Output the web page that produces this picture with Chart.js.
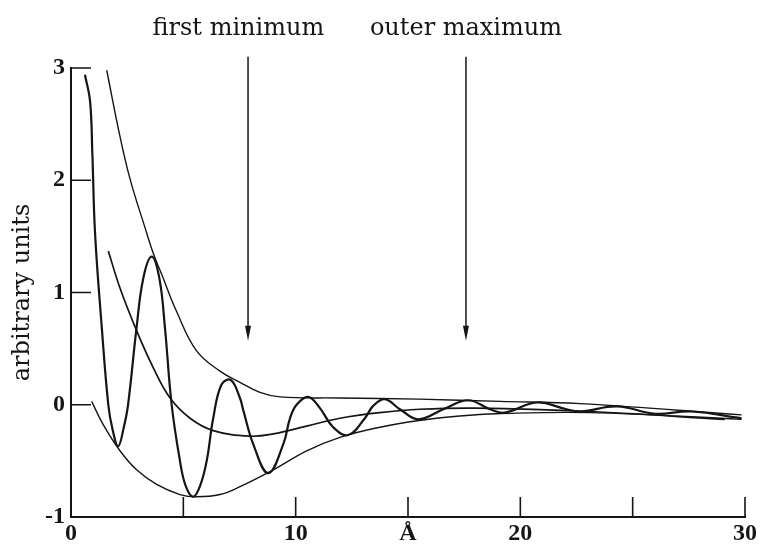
<!DOCTYPE html>
<html>
<head>
<meta charset="utf-8">
<script src="https://cdn.jsdelivr.net/npm/chart.js@4.4.0/dist/chart.umd.min.js"></script>
<style>
  html, body { margin: 0; padding: 0; background: #fff; }
</style>
</head>
<body>
<canvas id="chart" width="761" height="549"></canvas>
<script>
// oscillating curve
const waveX = [0.62, 0.85, 0.95, 1.07, 1.37, 1.66, 1.85, 2.1, 2.35, 2.54, 2.92, 3.22, 3.59, 3.93, 4.18, 4.48, 4.85, 5.1, 5.44,
  5.75, 6.04, 6.33, 6.7, 7.12, 7.52, 7.67, 8.11, 8.78, 9.45, 9.75, 10.04, 10.56, 11.08, 11.67, 12.34, 13.08, 13.45, 13.97, 14.64,
  15.46, 16.57, 17.68, 18.65, 19.31, 20.72, 22.06, 22.7, 24.3, 26.0, 27.6, 29.85];
const waveY = [2.94, 2.7, 2.24, 1.53, 0.69, 0.0, -0.22, -0.37, -0.2, 0.0, 0.69, 1.13, 1.32, 1.13, 0.69, 0.0, -0.5, -0.72, -0.82,
  -0.72, -0.5, -0.12, 0.18, 0.22, 0.06, -0.05, -0.35, -0.61, -0.35, -0.12, 0.0, 0.07, -0.03, -0.2, -0.27, -0.12, -0.01, 0.05, -0.04,
  -0.13, -0.04, 0.04, -0.04, -0.07, 0.02, -0.04, -0.06, -0.015, -0.08, -0.06, -0.12];

// upper envelope
const upperX = [1.59, 2.18, 2.63, 3.29, 3.66, 4.04, 4.7, 5.59, 6.63, 7.52, 8.41, 9.3, 11.97, 15.5, 19.1, 22.65, 29.85];
const upperY = [2.98, 2.39, 2.01, 1.58, 1.35, 1.16, 0.83, 0.48, 0.3, 0.2, 0.11, 0.07, 0.06, 0.05, 0.03, 0.01, -0.09];

// middle curve
const middleX = [1.66, 2.18, 2.92, 3.66, 4.41, 5.3, 6.33, 7.97, 9.0, 10.49, 11.97, 13.75, 15.53, 18.05, 23.1, 29.1];
const middleY = [1.37, 1.04, 0.66, 0.33, 0.06, -0.12, -0.23, -0.28, -0.26, -0.19, -0.12, -0.07, -0.04, -0.03, -0.06, -0.13];

// lower envelope
const lowerX = [0.92, 1.44, 2.18, 2.92, 3.81, 4.85, 5.59, 6.63, 7.52, 9.0, 10.49, 11.97, 13.75, 15.5, 17.3, 18.95, 23.1, 29.85];
const lowerY = [0.03, -0.18, -0.41, -0.58, -0.71, -0.8, -0.82, -0.8, -0.73, -0.58, -0.41, -0.29, -0.2, -0.14, -0.1, -0.08, -0.07, -0.13];

const xTicks = [0, 5, 10, 15, 20, 25, 30];
const xTickLabels = ['0', '', '10', 'Å', '20', '', '30'];
const yTicks = [-1, 0, 1, 2, 3];

// arrows at the top
const arrowLabels = ['first minimum', 'outer maximum'];
const arrowX = [7.88, 17.58];
const labelX = [7.45, 17.58];
const labelY = 3.29;
const arrowTop = 3.1;
const arrowTip = 0.57;

const ink = '#151515';
const toPoints = (xs, ys) => xs.map((v, i) => ({ x: v, y: ys[i] }));

const decorations = {
  id: 'decorations',
  afterDraw(chart) {
    const { ctx, scales: { x, y } } = chart;
    ctx.save();
    ctx.strokeStyle = ink;
    ctx.fillStyle = ink;

    // tick marks point inwards
    ctx.lineWidth = 1.6;
    ctx.beginPath();
    xTicks.forEach(v => {
      if (v === 0) return;
      const px = x.getPixelForValue(v);
      ctx.moveTo(px, y.bottom);
      ctx.lineTo(px, y.bottom - 20);
    });
    yTicks.forEach(v => {
      if (v === -1) return;
      const py = y.getPixelForValue(v);
      ctx.moveTo(x.left, py);
      ctx.lineTo(x.left + 20, py);
    });
    ctx.stroke();

    // arrows + captions
    ctx.font = '24px "DejaVu Serif"';
    ctx.textAlign = 'center';
    ctx.textBaseline = 'alphabetic';
    arrowX.forEach((v, i) => {
      const px = x.getPixelForValue(v);
      const top = y.getPixelForValue(arrowTop);
      const tip = y.getPixelForValue(arrowTip);
      ctx.lineWidth = 1.5;
      ctx.beginPath();
      ctx.moveTo(px, top);
      ctx.lineTo(px, tip - 10);
      ctx.stroke();
      ctx.beginPath();
      ctx.moveTo(px - 3, tip - 15);
      ctx.lineTo(px + 3, tip - 15);
      ctx.lineTo(px, tip);
      ctx.closePath();
      ctx.fill();
      ctx.fillText(arrowLabels[i], x.getPixelForValue(labelX[i]), y.getPixelForValue(labelY));
    });
    ctx.restore();
  }
};

const lineStyle = (width) => ({
  borderColor: ink,
  borderWidth: width,
  pointRadius: 0,
  fill: false,
  tension: 0.4
});

const tickFont = { family: '"Liberation Serif"', weight: 'bold', size: 24 };

new Chart(document.getElementById('chart'), {
  type: 'line',
  data: {
    datasets: [
      { label: 'wave', data: toPoints(waveX, waveY), ...lineStyle(2.2) },
      { label: 'upper', data: toPoints(upperX, upperY), ...lineStyle(1.4) },
      { label: 'middle', data: toPoints(middleX, middleY), ...lineStyle(1.7) },
      { label: 'lower', data: toPoints(lowerX, lowerY), ...lineStyle(1.4) }
    ]
  },
  options: {
    responsive: false,
    animation: false,
    layout: { padding: { top: 68, right: 16, bottom: 0, left: 0 } },
    plugins: {
      legend: { display: false },
      tooltip: { enabled: false }
    },
    scales: {
      x: {
        type: 'linear',
        min: 0,
        max: 30,
        afterBuildTicks: (s) => { s.ticks = xTicks.map(v => ({ value: v })); },
        afterFit: (s) => { s.height = 32; },
        ticks: {
          callback: (v) => xTickLabels[xTicks.indexOf(v)],
          font: tickFont,
          color: ink,
          padding: 2,
          maxRotation: 0,
          autoSkip: false
        },
        grid: { drawOnChartArea: false, drawTicks: false },
        border: { display: true, width: 2, color: ink }
      },
      y: {
        min: -1,
        max: 3,
        afterBuildTicks: (s) => { s.ticks = yTicks.map(v => ({ value: v })); },
        afterFit: (s) => { s.width = 71; },
        title: {
          display: true,
          text: 'arbitrary units',
          font: { family: '"DejaVu Serif"', size: 24 },
          color: ink,
          padding: { top: 8, bottom: 0 }
        },
        ticks: {
          font: tickFont,
          color: ink,
          padding: 6
        },
        grid: { drawOnChartArea: false, drawTicks: false },
        border: { display: true, width: 2, color: ink }
      }
    }
  },
  plugins: [decorations]
});
</script>
</body>
</html>
